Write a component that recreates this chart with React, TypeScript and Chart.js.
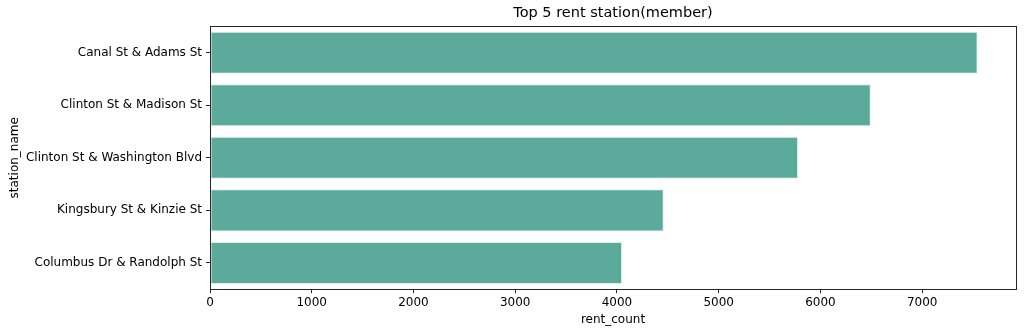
import React, { useEffect, useRef } from "react";
import { Chart, registerables } from "chart.js";

Chart.register(...registerables);

const stations = [
  "Canal St & Adams St",
  "Clinton St & Madison St",
  "Clinton St & Washington Blvd",
  "Kingsbury St & Kinzie St",
  "Columbus Dr & Randolph St",
];
const rentCounts = [7545, 6495, 5780, 4460, 4050];
const xTickValues = [0, 1000, 2000, 3000, 4000, 5000, 6000, 7000];
const chartTitle = "Top 5 rent station(member)";
const xTitle = "rent_count";
const yTitle = "station_name";

const FONT = "'DejaVu Sans', sans-serif";
const TITLE_SIZE = 14.5;

const framePlugin = {
  id: "frame",
  afterDraw(chart: any) {
    const { ctx, chartArea } = chart;
    ctx.save();
    ctx.strokeStyle = "#262626";
    ctx.lineWidth = 1;
    ctx.strokeRect(
      Math.round(chartArea.left) + 0.5,
      Math.round(chartArea.top) + 0.5,
      Math.round(chartArea.right - chartArea.left),
      Math.round(chartArea.bottom - chartArea.top)
    );
    // title centred over the plot area, like matplotlib's axes title
    const t = chart.titleBlock;
    ctx.fillStyle = "#000";
    ctx.font = `${TITLE_SIZE}px ${FONT}`;
    ctx.textAlign = "center";
    ctx.textBaseline = "middle";
    const cy = t ? (t.top + t.bottom) / 2 : 13;
    ctx.fillText(chartTitle, (chartArea.left + chartArea.right) / 2, cy);
    ctx.restore();
  },
};

export default function App() {
  const ref = useRef<HTMLCanvasElement>(null);
  useEffect(() => {
    if (!ref.current) return;
    const maxVal = Math.max(...rentCounts) * 1.05;
    const chart = new Chart(ref.current, {
      type: "bar",
      data: {
        labels: stations,
        datasets: [
          {
            data: rentCounts,
            backgroundColor: "rgb(91,170,155)",
            borderColor: "rgba(215,238,232,0.9)",
            borderWidth: 1,
            borderSkipped: false,
            categoryPercentage: 0.8,
            barPercentage: 1,
          },
        ],
      },
      options: {
        indexAxis: "y",
        responsive: false,
        animation: false,
        layout: { padding: { left: 0, right: 8, top: 0, bottom: 6 } },
        plugins: {
          legend: { display: false },
          tooltip: { enabled: false },
          title: {
            display: true,
            text: chartTitle,
            color: "rgba(0,0,0,0)",
            font: { family: FONT, size: TITLE_SIZE, weight: "normal" },
            padding: { top: 5, bottom: 4 },
          },
        },
        scales: {
          x: {
            min: 0,
            max: maxVal,
            afterBuildTicks: (scale: any) => {
              scale.ticks = xTickValues.map((v) => ({ value: v }));
            },
            ticks: {
              color: "#000",
              font: { family: FONT, size: 12 },
              maxRotation: 0,
              padding: 2,
              callback: (v: any) => String(v),
            },
            grid: {
              drawOnChartArea: false,
              drawTicks: true,
              tickLength: 4,
              color: "#262626",
            },
            border: { display: true, color: "#262626" },
            title: {
              display: true,
              text: xTitle,
              color: "#000",
              font: { family: FONT, size: 12 },
              padding: { top: 1, bottom: 0 },
            },
          },
          y: {
            afterFit: (scale: any) => {
              scale.width = 210;
            },
            ticks: {
              color: "#000",
              font: { family: FONT, size: 12 },
              padding: 4,
            },
            grid: {
              offset: false,
              drawOnChartArea: false,
              drawTicks: true,
              tickLength: 4,
              color: "#262626",
            },
            border: { display: true, color: "#262626" },
            title: {
              display: true,
              text: yTitle,
              color: "#000",
              font: { family: FONT, size: 12 },
              padding: { top: 8, bottom: 0 },
            },
          },
        },
      },
      plugins: [framePlugin],
    } as any);
    return () => chart.destroy();
  }, []);
  return (
    <div style={{ position: "fixed", left: 0, top: 0, width: 1024, height: 333, background: "#fff" }}>
      <canvas ref={ref} width={1024} height={333} />
    </div>
  );
}
